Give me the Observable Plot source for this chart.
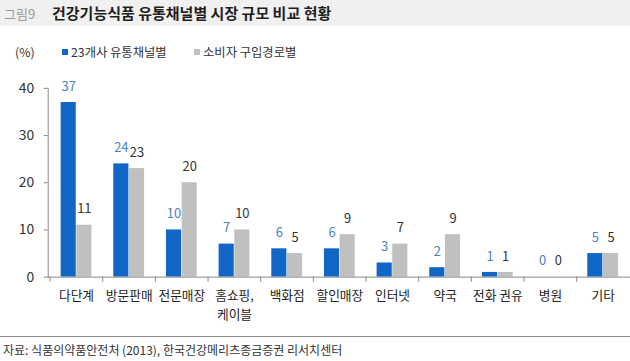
<!DOCTYPE html>
<html><head><meta charset="utf-8">
<script src="https://cdn.jsdelivr.net/npm/d3@7"></script>
<script src="https://cdn.jsdelivr.net/npm/@observablehq/plot@0.6"></script>
<style>
html,body{margin:0;padding:0;background:#fff;overflow:hidden;}
body{width:630px;height:361px;position:relative;font-family:"Noto Sans CJK KR","Noto Sans",sans-serif;color:#222;}
#title{position:absolute;left:0;top:0;width:630px;height:26px;background:#f0f0f0;}
#title .num{position:absolute;left:4px;top:4px;font-size:13px;color:#9a9a9a;}
#title .main{position:absolute;left:52px;top:2px;font-size:15px;font-weight:bold;color:#1e1e1e;}
#legend{position:absolute;left:0;top:43px;height:18px;font-size:12.3px;color:#333;}
#legend span{position:absolute;white-space:nowrap;top:0;}
.sw{display:inline-block;width:6px;height:6px;margin-right:3px;vertical-align:2px;}
#chart{position:absolute;left:0;top:65px;}
#footer{position:absolute;left:0;top:336px;width:630px;border-top:1px solid #8c8c8c;font-size:12px;color:#333;}
#footer div{position:absolute;left:3px;top:4px;white-space:nowrap;}
</style></head>
<body>
<div id="title"><span class="num">그림9</span><span class="main">건강기능식품 유통채널별 시장 규모 비교 현황</span></div>
<div id="legend"></div>
<div id="chart"></div>
<div id="footer"><div>자료: 식품의약품안전처 (2013), 한국건강메리츠종금증권 리서치센터</div></div>
<script>
const categories = ["다단계","방문판매","전문매장","홈쇼핑,\n케이블","백화점","할인매장","인터넷","약국","전화 권유","병원","기타"];
const seriesNames = ["23개사 유통채널별","소비자 구입경로별"];
const channelValues = [37,24,10,7,6,6,3,2,1,0,5];
const consumerValues = [11,23,20,10,5,9,7,9,1,0,5];
const yTicks = [0,10,20,30,40];

const colors = {blue:"#1166c6", gray:"#c0c0c0", blueText:"#4a80c4", grayText:"#333"};

// legend
const legend = document.getElementById("legend");
legend.innerHTML =
  `<span style="left:15px">(%)</span>` +
  `<span style="left:62px"><i class="sw" style="background:${colors.blue}"></i>${seriesNames[0]}</span>` +
  `<span style="left:194px"><i class="sw" style="background:${colors.gray}"></i>${seriesNames[1]}</span>`;

const W = 634, ML = 48, MR = 0, H = 265, MT = 23, MB = 52;
const step = (W - ML - MR) / categories.length;
const pad = 11, barW = 15.5;
const off = step / 2 - pad - barW / 2;

const rows = categories.map((c, i) => ({cat: c, a: channelValues[i], b: consumerValues[i]}));

const chart = Plot.plot({
  width: W, height: H,
  marginLeft: ML, marginRight: MR, marginTop: MT, marginBottom: MB,
  style: {fontFamily: '"Noto Sans CJK KR","Noto Sans",sans-serif', fontSize: "12px", color: "#333", background: "transparent"},
  x: {domain: categories, padding: 0, axis: null},
  y: {domain: [0, 40], axis: null},
  marks: [
    Plot.barY(rows, {x: "cat", y: "a", fill: colors.blue, insetLeft: pad, insetRight: step - pad - barW}),
    Plot.barY(rows, {x: "cat", y: "b", fill: colors.gray, insetLeft: step - pad - barW, insetRight: pad}),
    Plot.text(rows, {x: "cat", y: "a", text: d => String(d.a), dx: -off, dy: -16, fill: colors.blueText, fontSize: 13}),
    Plot.text(rows, {x: "cat", y: "b", text: d => String(d.b), dx: off, dy: -16, fill: colors.grayText, fontSize: 13}),
    Plot.frame({anchor: "left", stroke: "#888"}),
    Plot.ruleY([0], {stroke: "#888"}),
    Plot.axisY({ticks: yTicks, tickSize: 4, tickPadding: 10, stroke: "#888", fill: "#333", fontSize: 14, label: null}),
    Plot.axisX({tickSize: 5, tickFormat: () => "", dx: -step / 2, stroke: "#888", label: null}),
    Plot.text(categories, {x: d => d, frameAnchor: "bottom", lineAnchor: "top", dy: 9, lineHeight: 1.5, fill: "#222", fontSize: 12.8})
  ]
});
document.getElementById("chart").appendChild(chart);
</script>
</body></html>
